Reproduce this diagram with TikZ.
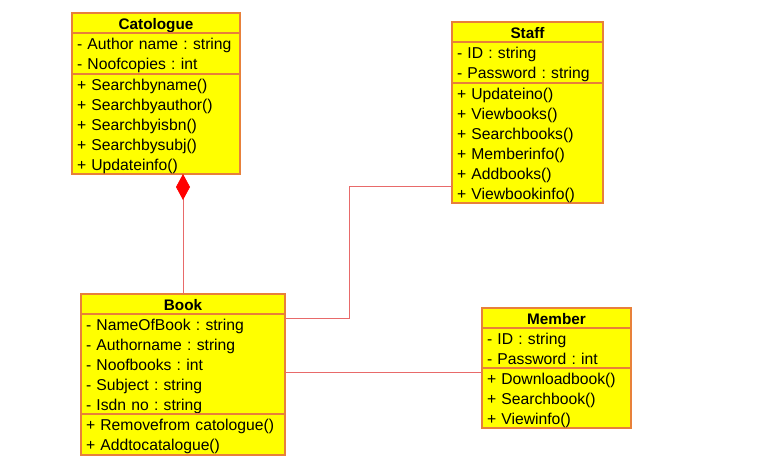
\documentclass[tikz,border=0pt]{standalone}
\usepackage{fontspec}
\setmainfont{Liberation Sans}
\usetikzlibrary{positioning, arrows.meta}
\definecolor{classfill}{HTML}{FFFF00}
\definecolor{classedge}{HTML}{E8803A}
\definecolor{linkred}{HTML}{E86A6A}
\newcommand\rowstrut{\rule[-4pt]{0pt}{20pt}}
\frenchspacing
\tikzset{
  classhead/.style={
    draw=classedge,
    line width=1.1pt,
    fill=classfill,
    outer sep=0pt,
    inner sep=0pt,
    minimum width=#1,
    minimum height=20pt,
    anchor=north west,
    font=\bfseries\fontsize{15.3}{20}\selectfont
  },
  classpart/.style 2 args={
    draw=classedge,
    line width=1.1pt,
    fill=classfill,
    outer sep=0pt,
    inner xsep=5pt,
    inner ysep=0pt,
    text width=#1,
    minimum height=#2,
    align=left,
    anchor=north,
    font=\fontsize{15.7}{20}\selectfont
  },
  link/.style={
    draw=linkred,
    line width=0.8pt
  }
}

\begin{document}
\begin{tikzpicture}[x=1pt, y=-1pt]
  \useasboundingbox (0,0) rectangle (759,466);

  % Catologue
  \node[classhead=168pt] (cat) at (72,13) {\rowstrut Catologue};
  \node[classpart={158pt}{41pt}] (catattr) at (cat.south) {\rowstrut- Author name : string\\\rowstrut- Noofcopies : int};
  \node[classpart={158pt}{100pt}] (catops) at (catattr.south) {\rowstrut+ Searchbyname()\\\rowstrut+ Searchbyauthor()\\\rowstrut+ Searchbyisbn()\\\rowstrut+ Searchbysubj()\\\rowstrut+ Updateinfo()};

  % Staff
  \node[classhead=151pt] (staff) at (452,22) {\rowstrut Staff};
  \node[classpart={141pt}{41pt}] (staffattr) at (staff.south) {\rowstrut- ID : string\\\rowstrut- Password : string};
  \node[classpart={141pt}{120pt}] (staffops) at (staffattr.south) {\rowstrut+ Updateino()\\\rowstrut+ Viewbooks()\\\rowstrut+ Searchbooks()\\\rowstrut+ Memberinfo()\\\rowstrut+ Addbooks()\\\rowstrut+ Viewbookinfo()};

  % Book
  \node[classhead=204pt] (book) at (81,294) {\rowstrut Book};
  \node[classpart={194pt}{100pt}] (bookattr) at (book.south) {\rowstrut- NameOfBook : string\\\rowstrut- Authorname : string\\\rowstrut- Noofbooks : int\\\rowstrut- Subject : string\\\rowstrut- Isdn no : string};
  \node[classpart={194pt}{41pt}] (bookops) at (bookattr.south) {\rowstrut+ Removefrom catologue()\\\rowstrut+ Addtocatalogue()};

  % Member
  \node[classhead=149pt] (member) at (482,308) {\rowstrut Member};
  \node[classpart={139pt}{40pt}] (memberattr) at (member.south) {\rowstrut- ID : string\\\rowstrut- Password : int};
  \node[classpart={139pt}{60pt}] (memberops) at (memberattr.south) {\rowstrut+ Downloadbook()\\\rowstrut+ Searchbook()\\\rowstrut+ Viewinfo()};

  % links
  \draw[link, -{Diamond[length=26pt, width=14pt, fill=red, color=red]}] (book.north) -- (book.north |- catops.south);
  \coordinate (bend) at (349,186);
  \draw[link] ([yshift=-4pt]bookattr.north east) -| (bend) -- (bend -| staffops.west);
  \coordinate (mlink) at ([yshift=-4pt]memberops.north west);
  \draw[link] (mlink -| bookattr.east) -- (mlink);
\end{tikzpicture}
\end{document}
